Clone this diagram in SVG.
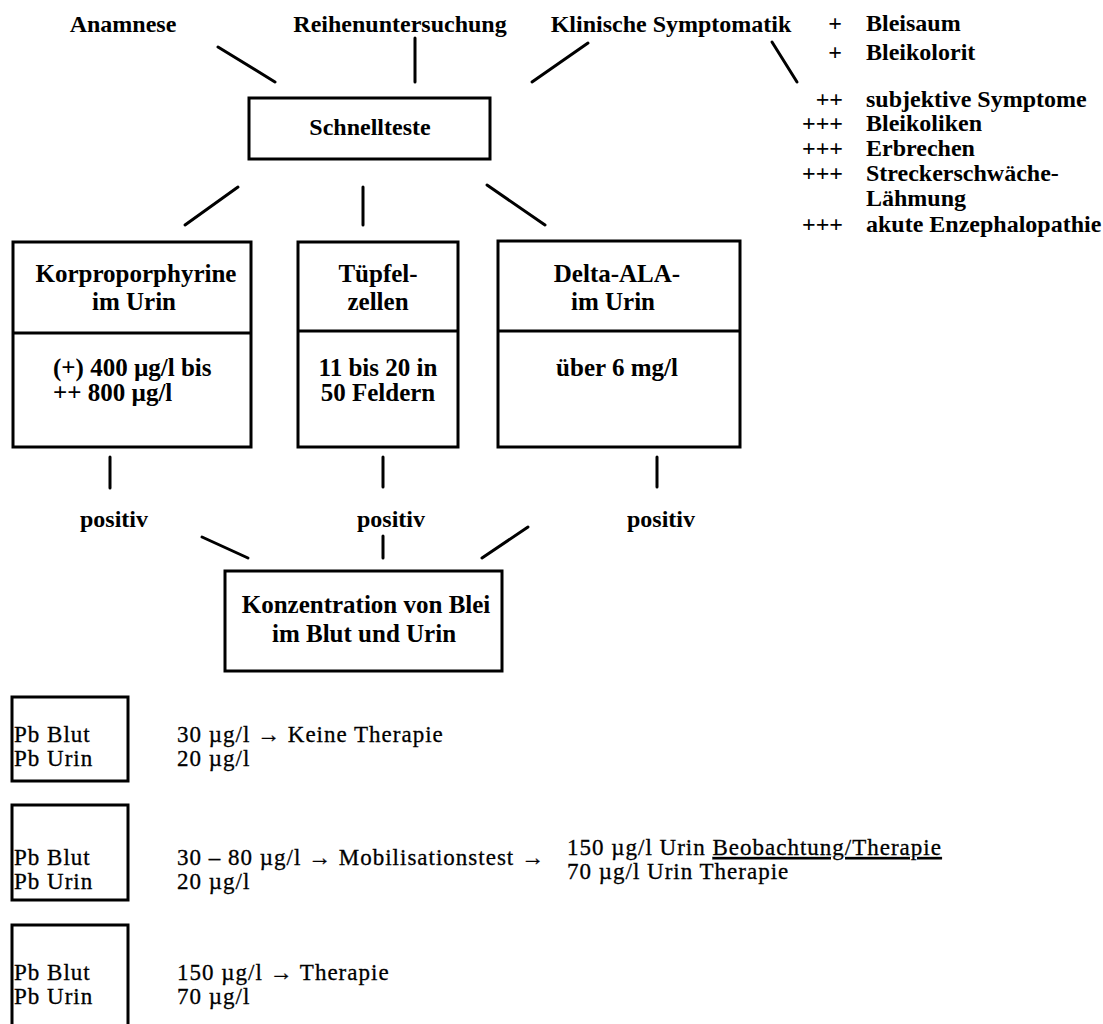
<svg xmlns="http://www.w3.org/2000/svg" width="1103" height="1024" viewBox="0 0 1103 1024">
<style>
text{font-family:"Liberation Serif","Times New Roman",serif;fill:#000}
.b{font-weight:bold;font-size:24px}
.bb{font-weight:bold;font-size:25px}
.r{font-size:23px;letter-spacing:1px;stroke:#000;stroke-width:0.3}
.m{text-anchor:middle}
.e{text-anchor:end}
.box{fill:#fff;stroke:#000;stroke-width:3}
.div{stroke:#000;stroke-width:3}
.c line{stroke:#000;stroke-width:3;stroke-linecap:round}
</style>
<rect width="1103" height="1024" fill="#fff"/>

<g id="anamnese"><text class="b m" x="123" y="32">Anamnese</text></g>
<g id="reihenuntersuchung"><text class="b m" x="400" y="32">Reihenuntersuchung</text></g>
<g id="klinische"><text class="b m" x="671" y="32">Klinische Symptomatik</text></g>
<g id="symptome">
<text class="b m" x="835" y="31">+</text><text class="b" x="866" y="31">Bleisaum</text>
<text class="b m" x="835" y="60">+</text><text class="b" x="866" y="60">Bleikolorit</text>
<text class="b e" x="843" y="107">++</text><text class="b" x="866" y="107">subjektive Symptome</text>
<text class="b e" x="843" y="131">+++</text><text class="b" x="866" y="131">Bleikoliken</text>
<text class="b e" x="843" y="156">+++</text><text class="b" x="866" y="156">Erbrechen</text>
<text class="b e" x="843" y="181">+++</text><text class="b" x="866" y="181">Streckerschwäche-</text>
<text class="b" x="866" y="206">Lähmung</text>
<text class="b e" x="843" y="232">+++</text><text class="b" x="866" y="232">akute Enzephalopathie</text>
</g>

<g id="schnellteste">
<rect class="box" x="249" y="98" width="241" height="61"/>
<text class="b m" x="370" y="135">Schnellteste</text>
</g>

<g id="korproporphyrine">
<rect class="box" x="13" y="242" width="238" height="205"/>
<line class="div" x1="13" y1="333" x2="251" y2="333"/>
<text class="bb m" x="136" y="282">Korproporphyrine</text>
<text class="bb m" x="134" y="310">im Urin</text>
<text class="bb" x="53" y="376">(+) 400 µg/l bis</text>
<text class="bb" x="53" y="401">++ 800 µg/l</text>
</g>

<g id="tuepfelzellen">
<rect class="box" x="298" y="242" width="160" height="205"/>
<line class="div" x1="298" y1="331" x2="458" y2="331" stroke-width="4"/>
<text class="bb m" x="378" y="282">Tüpfel-</text>
<text class="bb m" x="378" y="310">zellen</text>
<text class="bb m" x="378" y="376">11 bis 20 in</text>
<text class="bb m" x="378" y="401">50 Feldern</text>
</g>

<g id="delta-ala">
<rect class="box" x="498" y="241" width="242" height="206"/>
<line class="div" x1="498" y1="331" x2="740" y2="331"/>
<text class="bb m" x="617" y="282">Delta-ALA-</text>
<text class="bb m" x="613" y="310">im Urin</text>
<text class="bb m" x="617" y="376">über 6 mg/l</text>
</g>

<g id="positiv-labels">
<text class="b m" x="114" y="527">positiv</text>
<text class="b m" x="391" y="527">positiv</text>
<text class="b m" x="661" y="527">positiv</text>
</g>

<g id="konzentration">
<rect class="box" x="225" y="571" width="277" height="100"/>
<text class="bb m" x="366" y="613">Konzentration von Blei</text>
<text class="bb m" x="364" y="642">im Blut und Urin</text>
</g>

<g id="stufe1">
<rect class="box" x="12" y="697" width="116" height="84"/>
<text class="r" x="14" y="742">Pb Blut</text>
<text class="r" x="14" y="766">Pb Urin</text>
<text class="r" x="177" y="742">30 µg/l → Keine Therapie</text>
<text class="r" x="177" y="766">20 µg/l</text>
</g>

<g id="stufe2">
<rect class="box" x="12" y="805" width="116" height="95"/>
<text class="r" x="14" y="865">Pb Blut</text>
<text class="r" x="14" y="889">Pb Urin</text>
<text class="r" x="177" y="865">30 – 80 µg/l → Mobilisationstest →</text>
<text class="r" x="177" y="889">20 µg/l</text>
<text class="r" x="567" y="855">150 µg/l Urin <tspan text-decoration="underline">Beobachtung/Therapie</tspan></text>
<text class="r" x="567" y="879">70 µg/l Urin Therapie</text>
</g>

<g id="stufe3">
<path d="M12,1024 V925 H128 V1024" fill="none" stroke="#000" stroke-width="3"/>
<text class="r" x="14" y="980">Pb Blut</text>
<text class="r" x="14" y="1004">Pb Urin</text>
<text class="r" x="177" y="980">150 µg/l → Therapie</text>
<text class="r" x="177" y="1004">70 µg/l</text>
</g>

<g id="connectors" class="c">
<line x1="218" y1="47" x2="275" y2="82"/>
<line x1="415" y1="38" x2="415" y2="82"/>
<line x1="588" y1="43" x2="532" y2="82"/>
<line x1="772" y1="42" x2="797" y2="82"/>
<line x1="238" y1="187" x2="185" y2="225"/>
<line x1="363" y1="187" x2="363" y2="225"/>
<line x1="487" y1="185" x2="545" y2="225"/>
<line x1="110" y1="457" x2="110" y2="488"/>
<line x1="383" y1="457" x2="383" y2="487"/>
<line x1="657" y1="457" x2="657" y2="487"/>
<line x1="202" y1="537" x2="248" y2="558"/>
<line x1="383" y1="536" x2="383" y2="558"/>
<line x1="528" y1="527" x2="482" y2="558"/>
</g>
</svg>
